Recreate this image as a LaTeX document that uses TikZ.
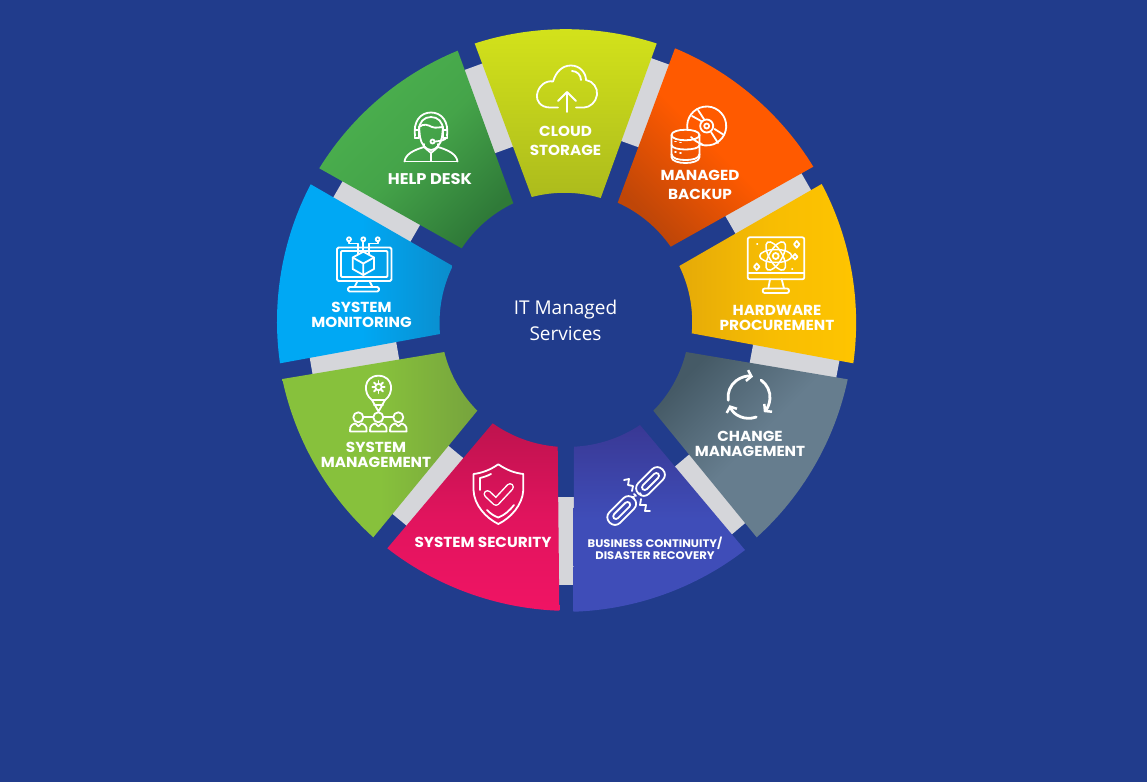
\documentclass[tikz,border=0pt]{standalone}
\usepackage{fontspec}
\setmainfont{Poppins}[FakeStretch=1.05]
\newfontfamily\centerfont{Open Sans}
\usetikzlibrary{arrows.meta,calc}
\definecolor{bgblue}{HTML}{213C8C}
\definecolor{barcol}{HTML}{D5D6DA}
\definecolor{cloudA}{HTML}{D4E31B}\definecolor{cloudB}{HTML}{ACBB1C}
\definecolor{helpA}{HTML}{4CB24F}\definecolor{helpB}{HTML}{2F7A38}
\definecolor{backA}{HTML}{FF5A00}\definecolor{backB}{HTML}{BF4608}
\definecolor{hardA}{HTML}{FFC500}\definecolor{hardB}{HTML}{E5AA08}
\definecolor{chgA}{HTML}{667D8E}\definecolor{chgB}{HTML}{455A66}
\definecolor{bizA}{HTML}{3F4DB8}\definecolor{bizB}{HTML}{393894}
\definecolor{secA}{HTML}{F01464}\definecolor{secB}{HTML}{BE134E}
\definecolor{mgmtA}{HTML}{87C13C}\definecolor{mgmtB}{HTML}{76A33D}
\definecolor{monA}{HTML}{00A8F4}\definecolor{monB}{HTML}{0B8CCB}
\newcommand{\segment}[5]{%
  \path[shade,#5] (#1) to[bend left=18,looseness=.87] (#2) -- (#3) to[bend right=15.5,looseness=.87] (#4) -- cycle;}
\newcommand{\seglabel}[5]{%
  \node[seglab,font={\fontsize{#4}{#5}\selectfont\bfseries}] (#1) at (#2) {#3};}
\tikzset{
  seglab/.style={text=white,align=center,inner sep=0pt},
  bar/.style={draw=barcol,line width=22,line cap=butt},
  icon/.style={draw=white,line width=1.8,line cap=round,line join=round},
}
\begin{document}
\begin{tikzpicture}[x=1pt,y=-1pt]
\useasboundingbox (0,0) rectangle (1147,782);
\fill[bgblue] (0,0) rectangle (1147,782);
% connecting bars
\draw[bar] (473.3,66.8) -- (503.7,150);
\draw[bar] (660,61.3) -- (630,144.2);
\draw[bar] (806.2,181.6) -- (730.5,225);
\draw[bar] (837.6,370.3) -- (751.3,354.2);
\draw[bar] (739,528.3) -- (681.7,460.8);
\draw[bar] (567,496.7) -- (567,585);
\draw[bar] (456.3,452.3) -- (400,520.2);
\draw[bar] (311.2,366.3) -- (397.8,351.3);
\draw[bar] (338,189.2) -- (415,233.7);
% segments
\segment{474.7,43.5}{656.7,43.5}{600.7,198}{531.7,197}{top color=cloudA,bottom color=cloudB}
\segment{675,48.3}{813.3,166.7}{670.7,246.7}{617.7,202.7}{top color=backA,bottom color=backB,middle color=backA,shading angle=-45}
\segment{821.7,184}{853.3,363.3}{691.7,333.3}{679.3,266}{right color=hardA,left color=hardB,middle color=hardA!70!hardB}
\segment{847.7,379.3}{756.7,537.3}{653.3,410.7}{686,352}{bottom color=chgA,top color=chgB,middle color=chgA,shading angle=45}
\segment{745,550}{573.3,611.7}{574,446.7}{640,425}{bottom color=bizA,top color=bizB,middle color=bizA}
\segment{559.3,610.7}{387.3,548.3}{492.7,423.3}{557.7,446.7}{bottom color=secA,top color=secB,middle color=secA!70!secB}
\segment{373.3,537.3}{282.3,379}{444.3,352}{477.3,410.7}{left color=mgmtA,right color=mgmtB,middle color=mgmtA}
\segment{280,363.3}{310.7,184.3}{452.7,266}{440,334}{left color=monA,right color=monB,middle color=monA}
\segment{319.3,168.3}{457.7,50.7}{513.3,203.3}{461.7,248.3}{top color=helpA,bottom color=helpB,middle color=helpA!75!helpB,shading angle=45}
% ---- cloud icon
\draw[icon] (558,107.5) -- (550,107.5) .. controls (540,107.5) and (536,100) .. (537,95) .. controls (538,86) and (546,80) .. (553,81.5)
  .. controls (556,72) and (562,65.5) .. (571,65.5) .. controls (580,65.5) and (586,73) .. (586,80)
  .. controls (593,81) and (598,88) .. (597,95) .. controls (596,102) and (590,107.5) .. (584,107.5) -- (576,107.5);
\draw[icon] (567,112) -- (567,92) (558,101) -- (567,92) -- (576,101);
\draw[icon] (572,71) .. controls (577,71) and (581,75) .. (581,80);
% ---- help desk icon
\draw[icon] (415,136) .. controls (413,122) and (420,112.5) .. (431,112.5) .. controls (442,112.5) and (449,122) .. (447,136);
\draw[icon] (419,130) .. controls (419,122) and (424,117) .. (431,117) .. controls (438,117) and (443,122) .. (443,130);
\draw[icon] (419,127) .. controls (424,123) and (428,125) .. (432,127) .. controls (436,128.5) and (440,127) .. (443,127);
\draw[icon] (419,127) -- (420,137) .. controls (421,144) and (426,150) .. (431,150) .. controls (436,150) and (441,144) .. (442,137) -- (443,127);
\draw[icon] (414.5,130) -- (419,130) -- (419,138) -- (414.5,138) -- cycle;
\draw[icon] (447.5,130) -- (443,130) -- (443,138) -- (447.5,138) -- cycle;
\draw[icon] (446,138) .. controls (445,140) and (441,141) .. (435,141.5);
\draw[icon] (432.5,141.5) circle[radius=2];
\draw[icon] (404.5,161.5) .. controls (405.5,154) and (414,150) .. (424,147) -- (424,144);
\draw[icon] (457.5,161.5) .. controls (456.5,154) and (448,150) .. (438,147) -- (438,144);
\draw[icon] (404.5,161.5) -- (457.5,161.5);
\draw[icon] (424,147) -- (431,153) -- (438,147) (431,153) -- (431,161);
% ---- backup icon
\draw[icon] (706.7,126) ++(172:19.5) arc[start angle=172,end angle=470,radius=19.5];
\draw[icon] (706.7,126) circle[radius=6.5];
\draw[icon] (706.7,126) circle[radius=2.5];
\draw[icon] (692,116) -- (702,121.5) (698,110) -- (704.5,120);
\draw[icon] (711,132) -- (718,143) (714.5,129) -- (724,135);
\draw[icon] (691,137) .. controls (694,140) and (698,143) .. (702,144);
\draw[icon] (671.5,135) .. controls (671.5,128) and (699.5,128) .. (699.5,135) .. controls (699.5,142) and (671.5,142) .. (671.5,135);
\draw[icon] (671.5,135) -- (671.5,157) .. controls (671.5,165) and (699.5,165) .. (699.5,157) -- (699.5,135);
\draw[icon] (671.5,145) .. controls (671.5,151) and (699.5,151) .. (699.5,145);
\draw[icon] (671.5,154) .. controls (671.5,159) and (680,160) .. (685.5,160) .. controls (691,160) and (699.5,159) .. (699.5,154);
\draw[icon] (675,141.5) -- (676,141.5) (680,142.5) -- (681,142.5) (675,152) -- (676,152) (680,153) -- (681,153);
% ---- hardware icon
\draw[icon,rounded corners=2] (747.7,237.3) rectangle (804.3,279.3);
\draw[icon] (747.7,273) -- (804.3,273);
\draw[icon] (770,279.3) -- (768.3,288.5) (781.7,279.3) -- (784,288.5);
\draw[icon,rounded corners=2] (762.7,288.5) rectangle (789,293);
\foreach \a in {0,60,120}{\draw[icon,line width=1.5,rotate around={\a:(775.7,256)}] (775.7,256) ellipse[x radius=16,y radius=6.5];}
\draw[icon] (775.7,256) circle[radius=3];
\draw[icon] (796.7,241) -- (799.5,244.3) -- (796.7,247.6) -- (794,244.3) -- cycle;
\draw[icon] (795,254) -- (797.5,256.7) -- (795,259.4) -- (792.5,256.7) -- cycle;
\draw[icon] (756.7,263.5) -- (759.5,266.7) -- (756.7,270) -- (754,266.7) -- cycle;
\draw[icon] (757,244) -- (757.5,244) (792,269) -- (792.5,269);
% ---- change icon
\begin{scope}[icon,line width=2.8,-{Straight Barb[length=4.5pt,width=11pt,line width=2.5pt]}]
\draw (749,397.3) ++(172:21) arc[start angle=172,end angle=281,radius=21];
\draw (749,397.3) ++(305:21) arc[start angle=305,end angle=405,radius=21];
\draw (749,397.3) ++(70:21) arc[start angle=70,end angle=158,radius=21];
\end{scope}
% ---- chain icon
\begin{scope}[icon,shift={(650.5,481.5)},rotate=45]
\draw[rounded corners=7] (-17,-7.5) rectangle (17,7.5);
\draw[rounded corners=3] (-11,-2.8) rectangle (11,2.8);
\end{scope}
\begin{scope}[icon,shift={(621.7,510.5)},rotate=45]
\draw[rounded corners=7] (-17,-7.5) rectangle (17,7.5);
\draw[rounded corners=3] (-11,-2.8) rectangle (11,2.8);
\end{scope}
\draw[icon] (624,480) -- (629,479) -- (628,485) -- (633,486) -- (632,491);
\draw[icon] (641,499) -- (640,505) -- (646,505) -- (645,511) -- (650,511);
\draw[icon] (634,494) -- (636,496) (640,493) -- (641,495) (632,497) -- (634,497);
% ---- shield icon
\draw[icon] (498.3,464.3) .. controls (490,470) and (482,473) .. (473.5,474) -- (473.5,490) .. controls (474,505) and (486,518) .. (498.3,524)
  .. controls (510.6,518) and (522.6,505) .. (523.3,490) -- (523.3,474) .. controls (514.6,473) and (506.6,470) .. (498.3,464.3);
\draw[icon] (491,474) .. controls (487,476) and (484,477) .. (480,478) -- (480,490);
\draw[icon] (487,510) .. controls (491,514) and (494,516) .. (498.3,517.5) .. controls (505,515) and (510,510) .. (514,505);
\draw[white,line width=8,line cap=round,line join=round] (487.5,494) -- (496,502) -- (510,487);
\draw[color={rgb,255:red,222;green,20;blue,90},line width=5,line cap=round,line join=round] (487.5,494) -- (496,502) -- (510,487);
% ---- bulb and people icon
\draw[icon] (372,400) .. controls (363,394) and (363,376) .. (378.5,375.7) .. controls (394,376) and (394,394) .. (385,400) -- (372,400);
\draw[icon] (372,400) -- (378.5,411.5) -- (385,400) (374,405) -- (383,405);
\draw[icon] (378.5,387) circle[radius=3.2];
\foreach \a in {0,45,...,315}{\draw[icon] (378.5,387) ++(\a:3.6) -- ++(\a:2.6);}
\foreach \x in {358.3,378.3,398.3}{
 \draw[icon] (\x,417.3) circle[radius=5];
 \draw[icon] (\x-8.3,431.5) -- (\x+8.3,431.5) .. controls (\x+9,425) and (\x+5,424) .. (\x+3,423.5) -- (\x,426.5) -- (\x-3,423.5) .. controls (\x-5,424) and (\x-9,425) .. (\x-8.3,431.5);
}
\draw[icon] (363.3,417) -- (373.3,417) (383.3,417) -- (393.3,417);
% ---- monitor and cube icon
\draw[icon,rounded corners=1.5] (337,247.5) rectangle (391.5,281);
\draw[icon,rounded corners=1] (341,251) rectangle (387.5,277);
\draw[icon] (357.5,281) -- (354.5,287) (369.5,281) -- (372.5,287);
\draw[icon,rounded corners=1.5] (348,287) rectangle (379,291.5);
\draw[icon] (363.3,251.7) -- (374,257.5) -- (374,269) -- (363.3,275) -- (352.7,269) -- (352.7,257.5) -- cycle;
\draw[icon] (352.7,257.5) -- (363.3,263.5) -- (374,257.5) (363.3,263.5) -- (363.3,275);
\foreach \x in {349,363.3,377.7}{\draw[icon] (\x,239.3) circle[radius=2];}
\draw[icon] (363.3,241.3) -- (363.3,251.7);
\draw[icon] (349,241.3) -- (349,243.5) -- (358,243.5) -- (358,254.5);
\draw[icon] (377.7,241.3) -- (377.7,243.5) -- (369,243.5) -- (369,254.5);
% ---- labels
\seglabel{cloud}{565.5,141}{CLOUD\\STORAGE}{14.5}{19.5}
\seglabel{backup}{700,185}{MANAGED\\BACKUP}{14.5}{19.5}
\seglabel{hard}{777,318}{HARDWARE\\PROCUREMENT}{14.5}{14.5}
\seglabel{change}{750,443.5}{CHANGE\\MANAGEMENT}{14.5}{15}
\seglabel{biz}{655,548}{BUSINESS CONTINUITY/\\DISASTER RECOVERY}{11}{12}
\seglabel{sec}{483,542}{SYSTEM SECURITY}{14.5}{15}
\seglabel{mgmt}{376,454.5}{SYSTEM\\MANAGEMENT}{14.5}{15}
\seglabel{mon}{361.5,314.5}{SYSTEM\\MONITORING}{14.5}{15}
\seglabel{help}{430,179}{HELP DESK}{15.5}{15}
\node[text=white,align=center,inner sep=0pt,font={\centerfont\fontsize{19}{26}\selectfont}] (centre) at (565.5,320) {IT Managed\\Services};
\end{tikzpicture}
\end{document}
